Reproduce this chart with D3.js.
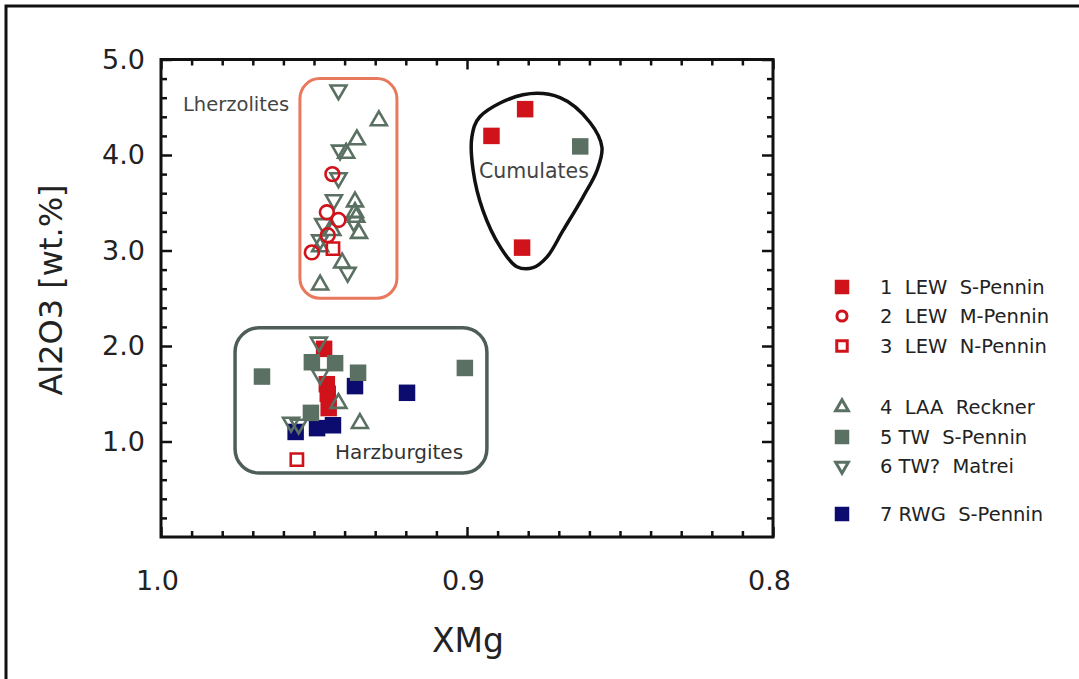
<!DOCTYPE html>
<html>
<head>
<meta charset="utf-8">
<script src="https://cdn.jsdelivr.net/npm/d3@7/dist/d3.min.js"></script>
<style>
  html, body { margin: 0; padding: 0; background: #fff; }
  svg { display: block; }
  text { font-family: "DejaVu Sans", sans-serif; }
</style>
</head>
<body>
<svg id="chart" width="1079" height="679"></svg>
<script>
// ---- Data: XMg vs Al2O3 (wt.%) per sample group ----
const s1x = [0.881, 0.892, 0.882, 0.9467, 0.9458, 0.9455, 0.9452];
const s1y = [4.48, 4.20, 3.03, 1.97, 1.60, 1.50, 1.35];

const s2x = [0.944, 0.9458, 0.942, 0.9455, 0.9507];
const s2y = [3.80, 3.40, 3.32, 3.16, 2.98];

const s3x = [0.9438, 0.9556];
const s3y = [3.02, 0.81];

const s4x = [0.9288, 0.936, 0.9395, 0.9366, 0.9366, 0.9362, 0.9353, 0.944, 0.948, 0.9408, 0.948, 0.942, 0.935];
const s4y = [4.36, 4.16, 4.02, 3.51, 3.40, 3.35, 3.18, 3.21, 3.04, 2.87, 2.64, 1.40, 1.19];

const s5x = [0.863, 0.9507, 0.9431, 0.967, 0.9007, 0.9356, 0.951];
const s5y = [4.09, 1.83, 1.82, 1.68, 1.77, 1.72, 1.30];

const s6x = [0.942, 0.9415, 0.942, 0.9435, 0.937, 0.947, 0.948, 0.939, 0.9484, 0.948, 0.9575, 0.955];
const s6y = [4.68, 4.05, 3.76, 3.53, 3.30, 3.28, 3.11, 2.77, 2.04, 1.70, 1.20, 1.18];

const s7x = [0.9366, 0.9196, 0.9438, 0.949, 0.956];
const s7y = [1.58, 1.51, 1.17, 1.14, 1.10];

const seriesNames = ["1  LEW  S-Pennin", "2  LEW  M-Pennin", "3  LEW  N-Pennin",
                     "4  LAA  Reckner", "5 TW  S-Pennin", "6 TW?  Matrei", "7 RWG  S-Pennin"];

const xTickMajor = [1.0, 0.9, 0.8];
const yTickMajor = [1, 2, 3, 4, 5];

// Field outlines (data units)
const lherzField = { x0: 0.9546, x1: 0.9229, y0: 2.50, y1: 4.80 };
const harzField  = { x0: 0.9758, x1: 0.8935, y0: 0.67, y1: 2.19 };
const cumX = [0.8958, 0.8817, 0.8696, 0.8598, 0.8559, 0.8575, 0.8621, 0.8686, 0.8739, 0.8784, 0.8837, 0.8892, 0.8948, 0.8980, 0.8984];
const cumY = [4.40, 4.63, 4.60, 4.34, 4.08, 3.84, 3.56, 3.21, 2.93, 2.82, 2.83, 3.04, 3.42, 3.84, 4.19];

// ---- Layout ----
const RED = "#d0121b", GREEN = "#5a7062", NAVY = "#0c0c6e";
const plot = { left: 161, top: 59.5, right: 773, bottom: 537 };

const svg = d3.select("#chart");

// outer border
svg.append("rect").attr("x", 6).attr("y", 6).attr("width", 1100).attr("height", 700)
  .attr("fill", "none").attr("stroke", "#111").attr("stroke-width", 3);

const x = d3.scaleLinear().domain([1.0, 0.8]).range([plot.left, plot.right]);
const y = d3.scaleLinear().domain([0, 5]).range([plot.bottom, plot.top]);

const xMinor = d3.range(0, 21).map(i => +(1.0 - i * 0.01).toFixed(2)).filter(v => !xTickMajor.includes(v));
const yMinor = d3.range(0, 26).map(i => +(i * 0.2).toFixed(1)).filter(v => !yTickMajor.includes(v) && v > 0 && v < 5);

function styleAxis(g) {
  g.select(".domain").remove();
  g.selectAll("line").attr("stroke", "#111").attr("stroke-width", 2.5);
  g.selectAll("text").attr("fill", "#222").style("font-family", "DejaVu Sans, sans-serif");
}

// left axis
svg.append("g").attr("transform", `translate(${plot.left},0)`)
  .call(d3.axisLeft(y).tickValues(yTickMajor).tickSizeInner(-11).tickSizeOuter(0).tickPadding(16)
        .tickFormat(d3.format(".1f")))
  .call(styleAxis)
  .call(g => g.selectAll("text").attr("font-size", 27));
svg.append("g").attr("transform", `translate(${plot.left},0)`)
  .call(d3.axisLeft(y).tickValues(yMinor).tickSize(-6).tickFormat(""))
  .call(styleAxis);
// right axis
svg.append("g").attr("transform", `translate(${plot.right},0)`)
  .call(d3.axisRight(y).tickValues(yTickMajor).tickSize(-11).tickFormat(""))
  .call(styleAxis);
svg.append("g").attr("transform", `translate(${plot.right},0)`)
  .call(d3.axisRight(y).tickValues(yMinor).tickSize(-6).tickFormat(""))
  .call(styleAxis);
// bottom axis
svg.append("g").attr("transform", `translate(0,${plot.bottom})`)
  .call(d3.axisBottom(x).tickValues(xTickMajor).tickSizeInner(-10).tickSizeOuter(0).tickPadding(34)
        .tickFormat(d3.format(".1f")))
  .call(styleAxis)
  .call(g => g.selectAll("text").attr("font-size", 27).attr("dx", -4));
svg.append("g").attr("transform", `translate(0,${plot.bottom})`)
  .call(d3.axisBottom(x).tickValues(xMinor).tickSize(-6).tickFormat(""))
  .call(styleAxis);
// top axis
svg.append("g").attr("transform", `translate(0,${plot.top})`)
  .call(d3.axisTop(x).tickValues(xTickMajor).tickSize(-10).tickFormat(""))
  .call(styleAxis);
svg.append("g").attr("transform", `translate(0,${plot.top})`)
  .call(d3.axisTop(x).tickValues(xMinor).tickSize(-6).tickFormat(""))
  .call(styleAxis);

// plot frame
svg.append("rect").attr("x", plot.left).attr("y", plot.top)
  .attr("width", plot.right - plot.left).attr("height", plot.bottom - plot.top)
  .attr("fill", "none").attr("stroke", "#111").attr("stroke-width", 3);

// axis titles
svg.append("text").attr("x", (plot.left + plot.right) / 2 + 1).attr("y", 652)
  .attr("text-anchor", "middle").attr("font-size", 33).attr("fill", "#222").text("XMg");
svg.append("text").attr("transform", "translate(62,290) rotate(-90)")
  .attr("text-anchor", "middle").attr("font-size", 32).attr("fill", "#222").text("Al2O3 [wt.%]");

// ---- Field outlines ----
svg.append("rect")
  .attr("x", x(lherzField.x0)).attr("y", y(lherzField.y1))
  .attr("width", x(lherzField.x1) - x(lherzField.x0)).attr("height", y(lherzField.y0) - y(lherzField.y1))
  .attr("rx", 20).attr("fill", "none").attr("stroke", "#e8795c").attr("stroke-width", 3);
svg.append("rect")
  .attr("x", x(harzField.x0)).attr("y", y(harzField.y1))
  .attr("width", x(harzField.x1) - x(harzField.x0)).attr("height", y(harzField.y0) - y(harzField.y1))
  .attr("rx", 24).attr("fill", "none").attr("stroke", "#4e5e57").attr("stroke-width", 3.5);
svg.append("path")
  .attr("d", d3.line().x(d => x(d[0])).y(d => y(d[1])).curve(d3.curveCatmullRomClosed)(d3.zip(cumX, cumY)))
  .attr("fill", "none").attr("stroke", "#111").attr("stroke-width", 3.5);

// ---- Markers ----
const sq = d3.symbol().type(d3.symbolSquare).size(272)();
const sqOpen = d3.symbol().type(d3.symbolSquare).size(150)();
const circ = d3.symbol().type(d3.symbolCircle).size(150)();
const tri = d3.symbol().type(d3.symbolTriangle).size(110)();

function drawSeries(xs, ys, path, opts) {
  svg.append("g").selectAll("path")
    .data(d3.zip(xs, ys)).join("path")
    .attr("d", path)
    .attr("transform", d => `translate(${x(d[0])},${y(d[1])})` + (opts.flip ? " rotate(180)" : ""))
    .attr("fill", opts.fill || "none")
    .attr("stroke", opts.stroke || "none")
    .attr("stroke-width", opts.sw || 0)
    .attr("stroke-linejoin", "miter");
}

drawSeries(s1x, s1y, sq, { fill: RED });
drawSeries(s7x, s7y, sq, { fill: NAVY });
drawSeries(s5x, s5y, sq, { fill: GREEN });
drawSeries(s4x, s4y, tri, { stroke: GREEN, sw: 2.6 });
drawSeries(s6x, s6y, tri, { stroke: GREEN, sw: 2.6, flip: true });
drawSeries(s2x, s2y, circ, { stroke: RED, sw: 2.6 });
drawSeries(s3x, s3y, sqOpen, { stroke: RED, sw: 2.6 });

// field labels
svg.append("text").attr("x", 183).attr("y", 111).attr("font-size", 19.5).attr("fill", "#444").text("Lherzolites");
svg.append("text").attr("x", 479).attr("y", 178).attr("font-size", 20.5).attr("fill", "#444").text("Cumulates");
svg.append("text").attr("x", 335).attr("y", 459).attr("font-size", 20).attr("fill", "#333").text("Harzburgites");

// ---- Legend ----
const legendRows = [287, 316, 346, 407, 437, 466, 514];
const legendMarks = [
  { path: d3.symbol().type(d3.symbolSquare).size(210)(), fill: RED },
  { path: d3.symbol().type(d3.symbolCircle).size(80)(), stroke: RED, sw: 3 },
  { path: d3.symbol().type(d3.symbolSquare).size(110)(), stroke: RED, sw: 3 },
  { path: d3.symbol().type(d3.symbolTriangle).size(70)(), stroke: GREEN, sw: 3 },
  { path: d3.symbol().type(d3.symbolSquare).size(210)(), fill: GREEN },
  { path: d3.symbol().type(d3.symbolTriangle).size(70)(), stroke: GREEN, sw: 3, flip: true },
  { path: d3.symbol().type(d3.symbolSquare).size(210)(), fill: NAVY }
];
const legend = svg.append("g");
seriesNames.forEach((name, i) => {
  const m = legendMarks[i];
  legend.append("path").attr("d", m.path)
    .attr("transform", `translate(842,${legendRows[i]})` + (m.flip ? " rotate(180)" : ""))
    .attr("fill", m.fill || "none").attr("stroke", m.stroke || "none").attr("stroke-width", m.sw || 0);
  legend.append("text").attr("x", 880).attr("y", legendRows[i]).attr("dy", "0.36em")
    .attr("font-size", 19.5).attr("fill", "#222").style("white-space", "pre").text(name);
});
</script>
</body>
</html>
